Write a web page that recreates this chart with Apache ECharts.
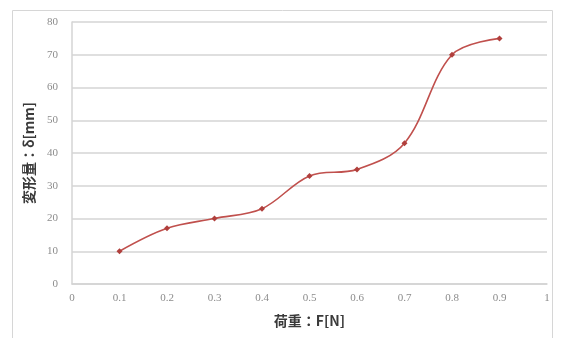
<!DOCTYPE html>
<html>
<head>
<meta charset="utf-8">
<script src="https://cdn.jsdelivr.net/npm/echarts@6/dist/echarts.min.js"></script>
<style>
  html, body { margin: 0; padding: 0; background: #ffffff; }
  #chart { width: 561px; height: 338px; }
</style>
</head>
<body>
<div id="chart"></div>
<script>
// Load F [N] against deformation δ [mm]
const loads = [0.1, 0.2, 0.3, 0.4, 0.5, 0.6, 0.7, 0.8, 0.9];
const deformation = [10, 17, 20, 23, 33, 35, 43, 70, 75];
const xTitle = '荷重：F[N]';
const yTitle = '変形量：δ[mm]';

const points = loads.map((x, i) => [x, deformation[i]]);
const chart = echarts.init(document.getElementById('chart'), null, { renderer: 'canvas' });

const tickFont = {
  color: '#8c8c8c',
  fontFamily: '"Liberation Serif", "DejaVu Serif", serif',
  fontSize: 11
};
const titleFont = {
  fontFamily: '"Noto Sans CJK JP", sans-serif',
  fontWeight: 'bold', fontSize: 14, color: '#3a3a3a'
};

chart.setOption({
  animation: false,
  backgroundColor: '#ffffff',
  graphic: [{
    type: 'rect',
    shape: { x: 12.5, y: 10.5, width: 540, height: 340 },
    style: { fill: 'none', stroke: '#d6d6d6', lineWidth: 1 },
    silent: true
  }],
  grid: { left: 72, right: 14, top: 22, bottom: 54 },
  xAxis: {
    type: 'value',
    min: 0, max: 1, interval: 0.1,
    name: xTitle,
    nameLocation: 'middle',
    nameGap: 30,
    nameTextStyle: titleFont,
    axisLine: { show: true, lineStyle: { color: '#d4d4d4', width: 1.5 } },
    axisTick: { show: false },
    splitLine: { show: false },
    axisLabel: Object.assign({ margin: 9, formatter: v => String(+v.toFixed(1)) }, tickFont)
  },
  yAxis: {
    type: 'value',
    min: 0, max: 80, interval: 10,
    name: yTitle,
    nameLocation: 'middle',
    nameGap: 34,
    nameTextStyle: titleFont,
    axisLine: { show: true, lineStyle: { color: '#d4d4d4', width: 1.5 } },
    axisTick: { show: false },
    splitLine: { show: true, lineStyle: { color: '#d4d4d4', width: 1.5 } },
    axisLabel: Object.assign({ margin: 14 }, tickFont)
  },
  series: [{
    type: 'line',
    data: points,
    smooth: 0.35,
    symbol: 'diamond',
    symbolSize: 6,
    lineStyle: { color: '#c0504d', width: 1.6 },
    itemStyle: { color: '#b03f3c' }
  }]
});
</script>
</body>
</html>
